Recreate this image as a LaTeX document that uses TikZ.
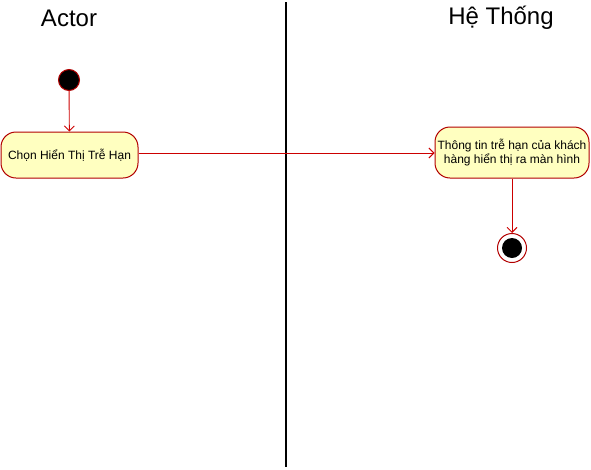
\documentclass[tikz,border=0pt]{standalone}
\usepackage{fontspec}
\setmainfont{Liberation Sans}
\usetikzlibrary{arrows.meta}
\definecolor{actfill}{HTML}{FFFFC0}
\definecolor{actline}{HTML}{B20000}
\definecolor{flowline}{HTML}{CC0000}
\tikzset{
    activity/.style={draw=actline, fill=actfill, line width=1pt, rounded corners=15pt, align=center,
        inner sep=1pt, font=\fontsize{12}{14}\selectfont},
    flow/.style={draw=flowline, line width=0.9pt, -{Straight Barb[length=5pt,width=10pt]}},
    lanetitle/.style={font=\fontsize{24}{27}\selectfont}
}
\begin{document}
\begin{tikzpicture}[x=1pt,y=-1pt]
    \useasboundingbox (0,0) rectangle (591,469);

    % swimlane titles and divider
    \node[lanetitle] (actor) at (69,18) {Actor};
    \node[lanetitle] (system) at (501,18) {Hệ Thống};
    \draw[line width=2pt] (286,2) -- (286,467);

    % start / end
    \node[circle, fill=black, draw=actline, line width=1pt, minimum size=21pt, inner sep=0pt] (start) at (69,80) {};
    \node[circle, draw=actline, fill=white, line width=1pt, minimum size=29pt, inner sep=0pt] (finish) at (512,248) {};
    \node[circle, fill=black, minimum size=20pt, inner sep=0pt] at (finish) {};

    % activities
    \node[activity, minimum width=137pt, minimum height=46pt] (choose) at (69.5,155) {Chọn Hiển Thị Trễ Hạn};
    \node[activity, minimum width=154pt, minimum height=51pt] (show) at (512,152.5) {Thông tin trễ hạn của khách\\hàng hiển thị ra màn hình};

    \draw[flow] (start) -- (choose);
    \draw[flow] (choose.east |- 0,153) -- (show.west |- 0,153);
    \draw[flow] (show) -- (finish);
\end{tikzpicture}
\end{document}
